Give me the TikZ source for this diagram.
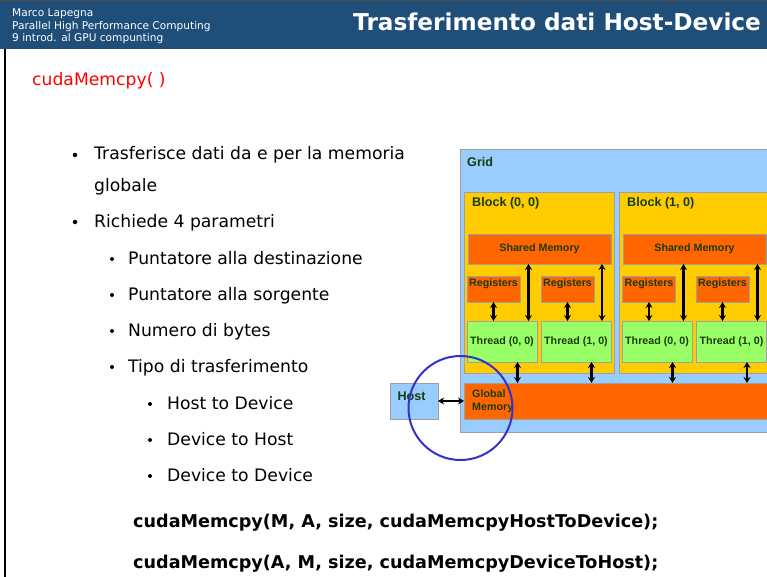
\documentclass[tikz,border=0pt]{standalone}
\usepackage{fontspec}
\setmainfont{DejaVu Sans}
\newfontfamily\diagfont{Liberation Sans}
\usetikzlibrary{arrows.meta}
\definecolor{hdr}{RGB}{31,78,121}
\definecolor{gridc}{RGB}{153,204,255}
\definecolor{blockc}{RGB}{255,204,0}
\definecolor{memc}{RGB}{255,102,0}
\definecolor{thrc}{RGB}{153,255,102}
\definecolor{dtxt}{RGB}{25,60,10}
\definecolor{boxln}{RGB}{160,160,160}
\definecolor{circc}{RGB}{51,51,204}
\definecolor{redt}{RGB}{255,0,0}
\begin{document}
\begin{tikzpicture}[x=1pt,y=-1pt,
  rect/.style={draw=boxln,line width=0.9pt,inner sep=0pt,outer sep=0pt},
  gridbox/.style={rect,fill=gridc},
  blockbox/.style={rect,fill=blockc},
  membox/.style={rect,fill=memc},
  thrbox/.style={rect,fill=thrc},
  dlab/.style={inner sep=0pt,text=dtxt,font=\diagfont\bfseries\fontsize{10.7}{12}\selectfont},
  dbig/.style={inner sep=0pt,text=dtxt,font=\diagfont\bfseries\fontsize{12.6}{14}\selectfont},
  dbl/.style={{Stealth[length=6pt,width=7pt]}-{Stealth[length=6pt,width=7pt]},line width=2.2pt,black},
  body/.style={anchor=base west,inner sep=0pt,font=\fontsize{17.2}{20}\selectfont},
  code/.style={anchor=base west,inner sep=0pt,font=\bfseries\fontsize{17.6}{20}\selectfont},
  hsmall/.style={anchor=base west,inner sep=0pt,text=white,font=\fontsize{10.6}{12}\selectfont},
  bul/.style={circle,fill=black,inner sep=0pt,minimum size=4.5pt},
  sbul/.style={circle,fill=black,inner sep=0pt,minimum size=4pt}
]
\clip (0,0) rectangle (767,577);
\fill[white] (0,0) rectangle (767,577);
% header
\fill[hdr] (0,0) rectangle (767,49);
\draw[black!70,line width=1.2pt] (0,0.5) -- (767,0.5);
\draw[black,line width=2.5pt] (5,49) -- (5,577);
\node[hsmall] (h1) at (12,17) {Marco Lapegna};
\node[hsmall] (h2) at (12,29.5) {Parallel High Performance Computing};
\node[hsmall] (h3) at (12,42) {9 introd. al GPU compunting};
\node[anchor=base west,inner sep=0pt,text=white,font=\bfseries\fontsize{23.2}{26}\selectfont] (title) at (353,31) {Trasferimento dati Host-Device};
% red heading
\node[body,text=redt] (fn) at (32,86) {cudaMemcpy( )};
% bullets
\node[bul] (b1) at (75,155) {};
\node[body] (t1) at (94,160) {Trasferisce dati da e per la memoria};
\node[body] (t1b) at (94,191.5) {globale};
\node[bul] (b2) at (75,222) {};
\node[body] (t2) at (94,227) {Richiede 4 parametri};
\node[sbul] (b3) at (112,259) {};
\node[body] (t3) at (128,264) {Puntatore alla destinazione};
\node[sbul] (b4) at (112,295) {};
\node[body] (t4) at (128,300) {Puntatore alla sorgente};
\node[sbul] (b5) at (112,331) {};
\node[body] (t5) at (128,336) {Numero di bytes};
\node[sbul] (b6) at (112,367) {};
\node[body] (t6) at (128,372) {Tipo di trasferimento};
\node[sbul] (b7) at (150,404) {};
\node[body] (t7) at (167,409) {Host to Device};
\node[sbul] (b8) at (150,440) {};
\node[body] (t8) at (167,445) {Device to Host};
\node[sbul] (b9) at (150,476) {};
\node[body] (t9) at (167,481) {Device to Device};
\node[code] (c1) at (133,527.5) {cudaMemcpy(M, A, size, cudaMemcpyHostToDevice);};
\node[code] (c2) at (133,568.5) {cudaMemcpy(A, M, size, cudaMemcpyDeviceToHost);};
% diagram
\node[gridbox,minimum width=320,minimum height=283] (grid) at (620,290.5) {};
\node[dbig,anchor=west] (gridl) at (467,162) {Grid};
\node[blockbox,minimum width=150,minimum height=181] (blk0) at (539,282.5) {};
\node[blockbox,minimum width=150,minimum height=181] (blk1) at (694,282.5) {};
\node[dbig,anchor=west] (blk0l) at (472,203) {Block (0, 0)};
\node[dbig,anchor=west] (blk1l) at (627,203) {Block (1, 0)};
\node[membox,minimum width=143,minimum height=30] (sm0) at (539.5,249) {};
\node[membox,minimum width=143,minimum height=30] (sm1) at (694.5,249) {};
\node[dlab] (sm0l) at (sm0) {Shared Memory};
\node[dlab] (sm1l) at (sm1) {Shared Memory};
\node[membox,minimum width=53,minimum height=26] (r00) at (493.5,289) {};
\node[membox,minimum width=53,minimum height=26] (r01) at (567.5,289) {};
\node[membox,minimum width=53,minimum height=26] (r10) at (649,289) {};
\node[membox,minimum width=53,minimum height=26] (r11) at (722.5,289) {};
\foreach \r in {r00,r01,r10,r11}{\node[dlab] (\r l) at ([yshift=5.5]\r.center) {Registers};}
\node[thrbox,minimum width=70,minimum height=41] (t00) at (502,341.5) {};
\node[thrbox,minimum width=70,minimum height=41] (t01) at (576,341.5) {};
\node[thrbox,minimum width=70,minimum height=41] (t10) at (657,341.5) {};
\node[thrbox,minimum width=70,minimum height=41] (t11) at (731.5,341.5) {};
\node[dlab] (t00l) at (t00) {Thread (0, 0)};
\node[dlab] (t01l) at (t01) {Thread (1, 0)};
\node[dlab] (t10l) at (t10) {Thread (0, 0)};
\node[dlab] (t11l) at (t11) {Thread (1, 0)};
\node[membox,minimum width=316,minimum height=36] (gm) at (622,401) {};
\node[dlab,anchor=west] (gml1) at (472,394) {Global};
\node[dlab,anchor=west] (gml2) at (472,407.5) {Memory};
\node[gridbox,minimum width=48,minimum height=36] (host) at (414,401) {};
\node[dbig] (hostl) at (411.5,396) {Host};
% arrows
\foreach \r/\t in {r00/t00,r01/t01,r10/t10,r11/t11}{
  \draw[dbl] (\r.south) -- (\r.south |- \t.north);
}
\foreach \t/\s in {t00/sm0,t10/sm1}{
  \draw[dbl] ([xshift=-8.5]\t.north east) -- ([xshift=-8.5]\t.north east |- \s.south);
}
\foreach \t/\s in {t01/sm0,t11/sm1}{
  \draw[dbl] ([xshift=-9]\t.north east) -- ([xshift=-9]\t.north east |- \s.south);
}
\foreach \t in {t00,t01,t10,t11}{
  \draw[dbl] ([xshift=15.5]\t.south) -- ([xshift=15.5]\t.south |- gm.north);
}
\draw[dbl] (host.east) -- (host.east -| gm.west);
% highlight circle
\node[draw=circc,line width=2pt,circle,minimum size=104,inner sep=0pt] (hl) at (460.5,408) {};
\end{tikzpicture}
\end{document}
